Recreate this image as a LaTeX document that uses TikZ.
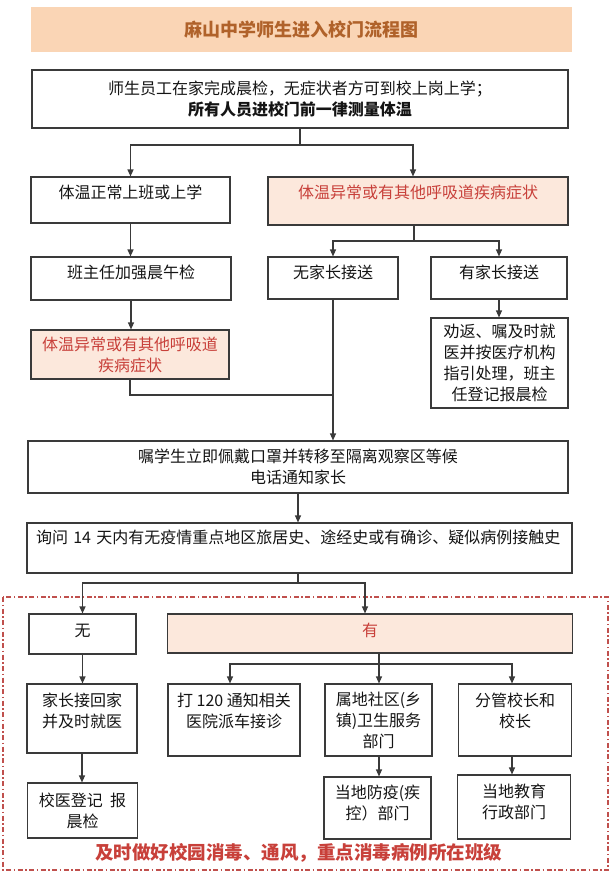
\documentclass[tikz,border=0pt]{standalone}
\usepackage{fontspec}
\setmainfont{Noto Sans CJK SC}
\usetikzlibrary{arrows.meta}

\definecolor{titlefill}{HTML}{FAD5B5}
\definecolor{titletext}{HTML}{B0622A}
\definecolor{warnfill}{HTML}{FCE8DC}
\definecolor{warntext}{HTML}{C8403A}
\definecolor{zone}{HTML}{C0504D}
\definecolor{edge}{HTML}{3A3A3A}

\tikzset{
  box/.style={draw=edge, line width=1.1pt, rectangle, align=center, inner sep=3pt, text=black!92},
  warn/.style={box, fill=warnfill, text=warntext},
  wire/.style={draw=edge, line width=1.1pt},
  arr/.style={wire, -{Triangle[length=7pt,width=6pt]}},
  lift/.style={text depth=#1},
}

\begin{document}
\begin{tikzpicture}[x=1pt, y=-1pt, font=\fontsize{16}{21}\selectfont]
    \useasboundingbox (0,0) rectangle (616,879);
    \node[fill=titlefill, text=titletext, minimum width=541pt, minimum height=45pt, font=\fontsize{18}{22}\selectfont\bfseries] (title) at (301.5,29.5) {麻山中学师生进入校门流程图};

    \node[box, minimum width=536pt, minimum height=58pt] (start) at (300,99) {师生员工在家完成晨检，无症状者方可到校上岗上学；\\\textbf{所有人员进校门前一律测量体温}};
    \node[box, minimum width=199pt, minimum height=46pt, lift=16pt] (normal) at (130.5,200) {体温正常上班或上学};
    \node[warn, minimum width=300pt, minimum height=48pt, lift=18pt] (abnA) at (418,201) {体温异常或有其他呼吸道疾病症状};
    \node[box, minimum width=200pt, minimum height=43pt, lift=13pt] (check) at (131,278.5) {班主任加强晨午检};
    \node[box, minimum width=130pt, minimum height=42pt, lift=12pt] (nopick) at (333,278) {无家长接送};
    \node[box, minimum width=136pt, minimum height=42pt, lift=12pt] (pick) at (499,278) {有家长接送};
    \node[box, minimum width=137pt, minimum height=90pt] (advise) at (499.5,363) {劝返、嘱及时就\\医并按医疗机构\\指引处理，班主\\任登记报晨检};
    \node[warn, minimum width=198pt, minimum height=49pt] (abnB) at (130,354.5) {体温异常或有其他呼吸道\\疾病症状};
    \node[box, minimum width=540pt, minimum height=52pt] (isolate) at (298,467) {嘱学生立即佩戴口罩并转移至隔离观察区等候\\电话通知家长};
    \node[box, text width=527pt, inner xsep=9pt, minimum height=50pt, align=left, lift=22pt] (ask) at (299.5,548) {询问~14~天内有无疫情重点地区旅居史、途经史或有确诊、疑似病例接触史};

    \draw[zone, line width=1.1pt, dash pattern=on 5pt off 2.5pt on 1.5pt off 2.5pt] (3,597) rectangle (608,870);

    \node[box, minimum width=107pt, minimum height=40pt, lift=8pt] (none) at (82.5,634) {无};
    \node[warn, minimum width=405pt, minimum height=39pt, lift=7pt] (found) at (370,633.5) {有};
    \node[box, minimum width=110pt, minimum height=69pt, lift=17pt] (gohome) at (82,718.5) {家长接回家\\并及时就医};
    \node[box, minimum width=110pt, minimum height=55pt] (report) at (82.5,810.5) {校医登记 \ 报\\晨检};
    \node[box, minimum width=132pt, minimum height=72pt, lift=20pt] (call) at (234,720) {打 120 通知相关\\医院派车接诊};
    \node[box, minimum width=107pt, minimum height=72pt] (town) at (378.5,720) {属地社区(乡\\镇)卫生服务\\部门};
    \node[box, minimum width=113.5pt, minimum height=72pt, lift=20pt] (head) at (515,720) {分管校长和\\校长};
    \node[box, minimum width=107pt, minimum height=62pt, lift=11pt] (cdc) at (377.5,808) {当地防疫(疾\\控）部门};
    \node[box, minimum width=112.5pt, minimum height=64pt, lift=12pt] (edu) at (514,807) {当地教育\\行政部门};
    \node[text=warntext, font=\fontsize{18.5}{22}\selectfont\bfseries] (note) at (298.6,853) {及时做好校园消毒、通风，重点消毒病例所在班级};

    \coordinate (s1) at (300,145);
    \coordinate (s2) at (414,241);
    \coordinate (s3) at (333,395);
    \coordinate (s4) at (298,583);
    \coordinate (s5) at (379,664);

    \draw[wire] (start.south) -- (s1);
    \draw[arr] (s1) -| (normal.north);
    \draw[arr] (s1) -| ([xshift=-5pt]abnA.north);
    \draw[arr] (normal.south) -- (normal.south |- check.north);
    \draw[arr] (check.south) -- (check.south |- abnB.north);
    \draw[wire] (abnA.south -| s2) -- (s2);
    \draw[arr] (s2) -| (nopick.north);
    \draw[arr] (s2) -| (pick.north);
    \draw[arr] (pick.south) -- (pick.south |- advise.north);
    \draw[wire] (abnB.south) |- (s3);
    \draw[arr] (nopick.south) -- (nopick.south |- isolate.north);
    \draw[arr] (isolate.south) -- (isolate.south |- ask.north);
    \draw[wire] (ask.south -| s4) -- (s4);
    \draw[arr] (s4) -| (none.north);
    \draw[arr] (s4) -| ([xshift=-5pt]found.north);
    \draw[arr] (none.south) -- (none.south |- gohome.north);
    \draw[arr] (gohome.south) -- (gohome.south |- report.north);
    \draw[wire] (found.south -| s5) -- (s5);
    \draw[arr] (s5) -| ([xshift=-4pt]call.north);
    \draw[arr] (s5) -- (s5 |- town.north);
    \draw[arr] (s5) -| ([xshift=-3pt]head.north);
    \draw[arr] (town.south -| s5) -- (s5 |- cdc.north);
    \draw[arr] ([xshift=-3pt]head.south) -- ([xshift=-3pt]head.south |- edu.north);
\end{tikzpicture}
\end{document}
